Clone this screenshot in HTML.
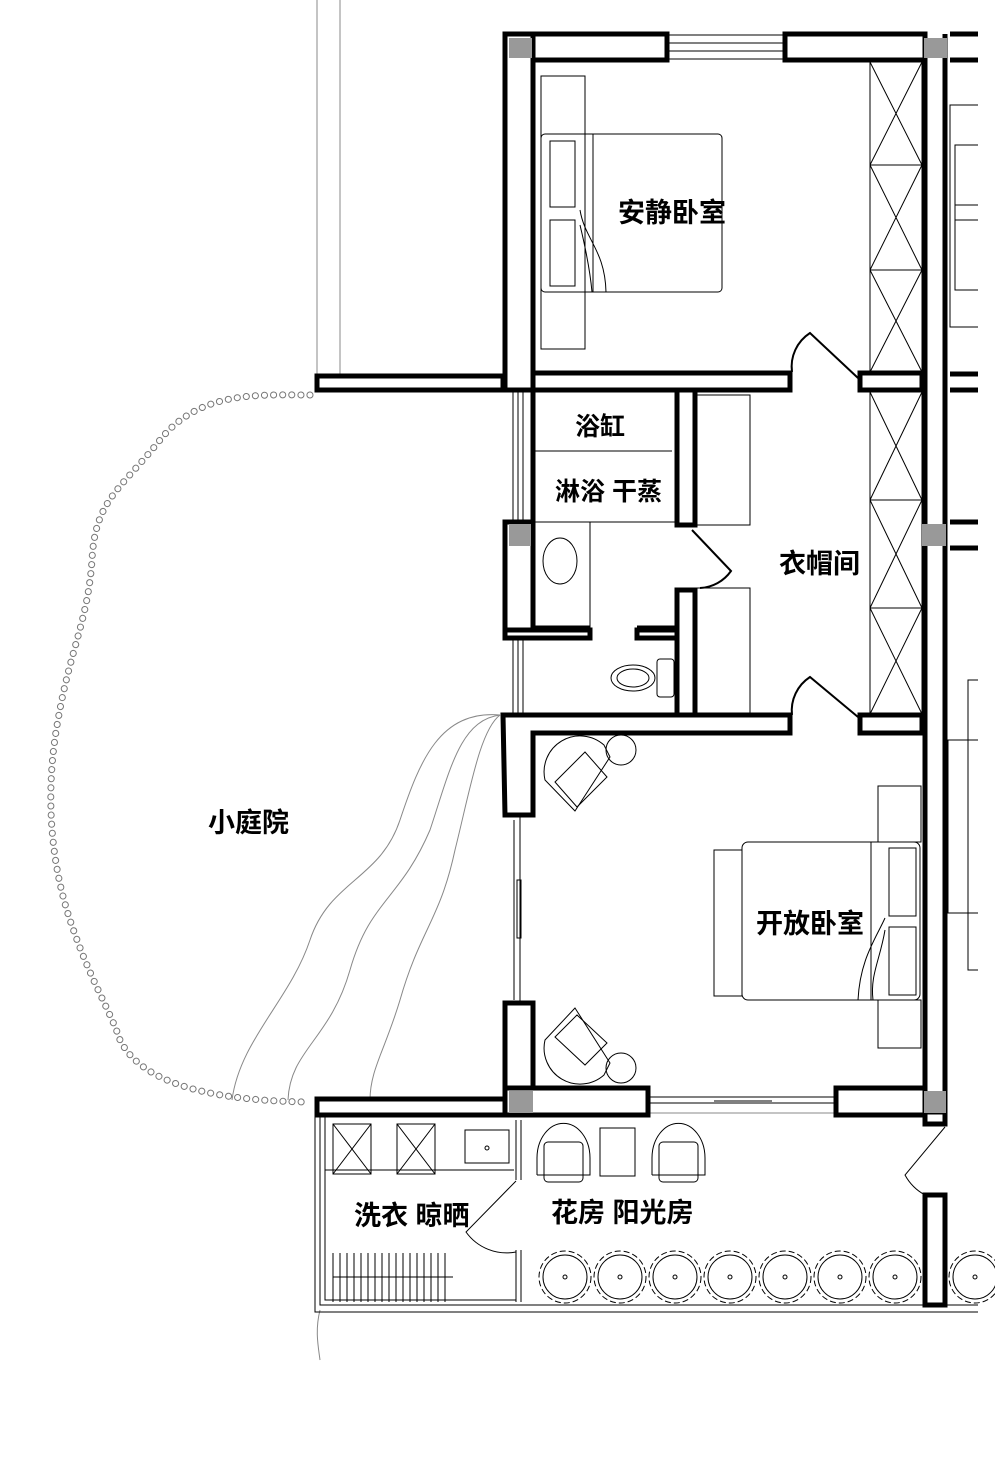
<!DOCTYPE html>
<html><head><meta charset="utf-8"><style>
html,body{margin:0;padding:0;background:#fff;}
svg{display:block;}
text{font-family:"Liberation Sans","Noto Sans CJK SC",sans-serif;font-weight:bold;fill:#000;}
</style></head><body>
<svg width="995" height="1466" viewBox="0 0 995 1466" xmlns="http://www.w3.org/2000/svg">
<g fill="none" stroke="#888" stroke-width="1">
<line x1="317" y1="0" x2="317" y2="376"/>
<line x1="340" y1="0" x2="340" y2="376"/>
<path d="M500,715 C440,710 420,760 400,820 C380,880 330,880 310,940 C290,1000 240,1040 232,1100"/>
<path d="M500,715 C460,720 450,770 430,830 C400,900 370,900 350,970 C330,1040 290,1050 288,1100"/>
<path d="M500,715 C480,730 470,790 455,850 C440,920 420,930 400,1000 C385,1050 370,1070 370,1100"/>
<path d="M320,1310 C315,1330 318,1345 320,1360"/>
</g>
<path id="gp" d="M310,395 C260,395 200,390 160,440 C120,490 95,500 92,560 C88,620 70,650 58,720 C45,790 50,860 70,920 C90,980 110,1010 120,1040 C140,1080 200,1100 305,1102" fill="none" stroke="#777" stroke-width="7" stroke-dasharray="0.1 9" stroke-linecap="round"/>
<path d="M310,395 C260,395 200,390 160,440 C120,490 95,500 92,560 C88,620 70,650 58,720 C45,790 50,860 70,920 C90,980 110,1010 120,1040 C140,1080 200,1100 305,1102" fill="none" stroke="#fff" stroke-width="5" stroke-dasharray="0.1 9" stroke-linecap="round"/>

<g fill="none" stroke="#000" stroke-width="1">
<line x1="667" y1="35" x2="785" y2="35"/><line x1="667" y1="43" x2="785" y2="43"/><line x1="667" y1="51" x2="785" y2="51"/><line x1="667" y1="59" x2="785" y2="59"/>
<rect x="870" y="62" width="52" height="310"/>
<path d="M870,165H922M870,270H922M870,62L922,165M922,62L870,165M870,165L922,270M922,165L870,270M870,270L922,372M922,270L870,372"/>
<rect x="870" y="392" width="52" height="322"/>
<path d="M870,500H922M870,608H922M870,392L922,500M922,392L870,500M870,500L922,608M922,500L870,608M870,608L922,714M922,608L870,714"/>
<rect x="541" y="76" width="44" height="273"/>
<rect x="541" y="134" width="181" height="158" rx="4"/>
<line x1="593" y1="134" x2="593" y2="292"/>
<rect x="550" y="141" width="25" height="66"/><rect x="550" y="220" width="25" height="66"/>
<path d="M580,210 C585,240 605,250 606,292 M580,225 C586,250 590,270 592,292"/>
<path d="M978,105H950V327H978M978,145H955V290H978M955,205H978M955,220H978"/>
<path d="M978,680H968V970H978M978,740H948V913H978"/>
<line x1="535" y1="451" x2="672" y2="451"/>
<line x1="535" y1="522" x2="677" y2="522"/>
<line x1="590" y1="522" x2="590" y2="628"/>
<ellipse cx="560" cy="561" rx="17" ry="23"/>
<path d="M513,392V520M518,392V520M523,392V520M513,638V715M518,638V715M523,638V715"/>
<rect x="657" y="659" width="17" height="38" rx="3"/>
<ellipse cx="633" cy="678" rx="22" ry="13"/><ellipse cx="633" cy="678" rx="16" ry="9"/>
<rect x="697" y="395" width="53" height="130"/><rect x="697" y="588" width="53" height="125"/>
<rect x="714" y="850" width="28" height="146"/>
<rect x="742" y="842" width="178" height="158" rx="6"/>
<line x1="871" y1="842" x2="871" y2="1000"/>
<rect x="889" y="848" width="27" height="68"/><rect x="889" y="927" width="27" height="68"/>
<path d="M885,918 C875,940 860,960 858,1000 M885,930 C880,960 870,975 873,1000"/>
<rect x="878" y="786" width="43" height="56"/><rect x="878" y="1000" width="43" height="48"/>
<path d="M520,815V1003M514,820V1000"/>
<rect x="517" y="880" width="4" height="58"/>
<g>
<path d="M575,811 L545,780 A36,36 0 0 1 604,745 L610,757 Z"/>
<path d="M555,782 L585,752 L607,777 L577,807 Z"/>
<circle cx="621" cy="750" r="15"/>
<path d="M575,1008 L545,1040 A36,36 0 0 0 604,1075 L610,1063 Z"/>
<path d="M555,1037 L585,1065 L607,1043 L577,1015 Z"/>
<circle cx="621" cy="1068" r="15"/>
</g>
<path d="M648,1097H836M648,1103H836M714,1101H772"/>
<line x1="648" y1="1113" x2="836" y2="1113" stroke="#888"/>
<path d="M315,1115V1312H978M320,1115V1305H978M325,1115V1300H516M516,1120V1180M521,1120V1180M516,1250V1302M521,1250V1302"/>
<rect x="333" y="1124" width="38" height="50"/><path d="M333,1124L371,1174M371,1124L333,1174"/>
<rect x="397" y="1124" width="38" height="50"/><path d="M397,1124L435,1174M435,1124L397,1174"/>
<line x1="325" y1="1170" x2="514" y2="1170"/>
<rect x="465" y="1130" width="44" height="33"/><circle cx="487" cy="1148" r="2"/>
<path d="M333,1277H453"/>
<path d="M333,1253V1302M340,1253V1302M347,1253V1302M354,1253V1302M361,1253V1302M368,1253V1302M375,1253V1302M382,1253V1302M389,1253V1302M396,1253V1302M403,1253V1302M410,1253V1302M417,1253V1302M424,1253V1302M431,1253V1302M438,1253V1302M445,1253V1302"/>
<path d="M516,1181L466,1232 A50,50 0 0 0 516,1252"/>
<path d="M537,1175V1158 A26,34 0 0 1 590,1158V1175H537"/><rect x="544" y="1142" width="39" height="40" rx="4"/>
<rect x="600" y="1128" width="35" height="48"/>
<path d="M652,1175V1158 A26,34 0 0 1 705,1158V1175H652"/><rect x="659" y="1142" width="39" height="40" rx="4"/>
<path d="M945,1127L905,1175 A50,50 0 0 0 925,1195"/>
<g id="pl"><circle cx="565" cy="1277" r="26" stroke-dasharray="6 3"/><circle cx="565" cy="1277" r="22"/><circle cx="565" cy="1277" r="2"/></g>
<use href="#pl" x="55"/><use href="#pl" x="110"/><use href="#pl" x="165"/><use href="#pl" x="220"/><use href="#pl" x="275"/><use href="#pl" x="330"/><use href="#pl" x="410"/>
</g>
<g fill="none" stroke="#000" stroke-width="2">
<path d="M858,378L810,333 A40,40 0 0 0 792,372"/>
<path d="M692,530L731,571 A40,40 0 0 1 700,588"/>
<path d="M858,717L810,677 A40,40 0 0 0 792,715"/>
</g>
<g fill="#fff" stroke="#000" stroke-width="5" stroke-linejoin="miter">
<rect x="505" y="34" width="162" height="26"/>
<rect x="785" y="34" width="140" height="26"/>
<path d="M950,34H978M950,60H978M950,374H978M950,390H978M950,522H978M950,548H978" fill="none"/>
<rect x="505" y="34" width="28" height="356"/>
<rect x="317" y="376" width="186" height="14"/>
<path d="M533,373H790V390H533Z"/>
<rect x="860" y="373" width="62" height="17"/>
<path d="M925,34V1122M945,34V1122" fill="none"/>
<path d="M533,390H677V525H695V390" fill="none"/>
<path d="M533,390V630" fill="none"/>
<rect x="677" y="390" width="18" height="135"/>
<rect x="677" y="590" width="18" height="125"/>
<rect x="505" y="522" width="28" height="113"/>
<path d="M533,522V628H590M637,628H677V715" fill="none"/>
<rect x="505" y="630" width="85" height="8"/><rect x="637" y="630" width="40" height="8"/>
<path d="M503,715H790V733H533V815H505Z"/>
<rect x="860" y="715" width="62" height="18"/>
<rect x="505" y="1003" width="28" height="112"/>
<rect x="505" y="1088" width="143" height="27"/>
<rect x="836" y="1088" width="89" height="27"/>
<rect x="317" y="1099" width="188" height="16"/>
<rect x="925" y="1195" width="20" height="110"/>
<rect x="925" y="1112" width="20" height="12"/>
</g>
<g fill="#999">
<rect x="509" y="38" width="23" height="20"/><rect x="924" y="38" width="23" height="20"/>
<rect x="509" y="524" width="22" height="22"/><rect x="922" y="524" width="24" height="22"/>
<rect x="509" y="1091" width="24" height="22"/><rect x="924" y="1091" width="22" height="22"/>
</g>
<g font-size="27">
<text x="618" y="222">安静卧室</text>
<text x="575" y="435" font-size="25">浴缸</text>
<text x="555" y="500" font-size="25">淋浴 干蒸</text>
<text x="779" y="573">衣帽间</text>
<text x="208" y="832">小庭院</text>
<text x="756" y="933">开放卧室</text>
<text x="354" y="1225">洗衣 晾晒</text>
<text x="551" y="1222">花房 阳光房</text>
</g>
</svg>
</body></html>
